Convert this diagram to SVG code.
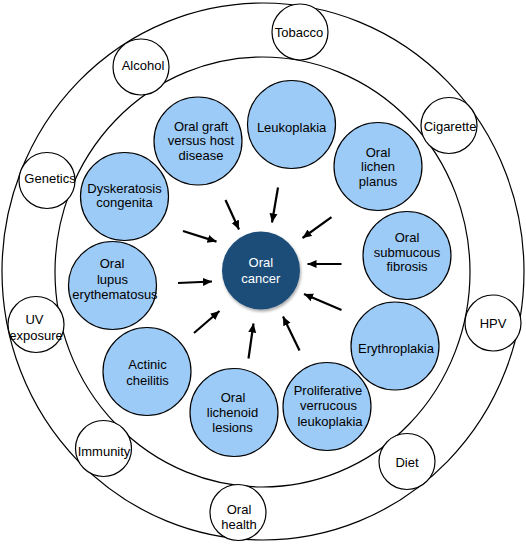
<svg xmlns="http://www.w3.org/2000/svg" width="526" height="545" viewBox="0 0 526 545">
<style>
  .ring { fill: none; stroke: #000; stroke-width: 1.2; }
  .outer { fill: #fff; stroke: #000; stroke-width: 1.2; }
  .blue { fill: #9dcbf7; stroke: #000; stroke-width: 1.2; }
  .core { fill: #1f4e79; }
  text { font-family: "Liberation Sans", Arial, sans-serif; font-size: 13px; fill: #000; text-anchor: middle; }
  .core-t { fill: #fff; }
  .arr { stroke: #000; stroke-width: 2.2; fill: none; marker-end: url(#ah); }
</style>
<defs>
  <marker id="ah" markerUnits="userSpaceOnUse" markerWidth="10" markerHeight="10" viewBox="0 0 10 10" refX="9" refY="5" orient="auto">
    <path d="M0,1 L9,5 L0,9 Z" fill="#000"/>
  </marker>
  <filter id="sh" x="-20%" y="-20%" width="150%" height="150%">
    <feGaussianBlur in="SourceAlpha" stdDeviation="1.5"/>
    <feOffset dx="1" dy="2" result="b"/>
    <feComponentTransfer><feFuncA type="linear" slope="0.35"/></feComponentTransfer>
    <feMerge><feMergeNode/><feMergeNode in="SourceGraphic"/></feMerge>
  </filter>
</defs>
<rect width="526" height="545" fill="#fff"/>
<g id="rings">
  <ellipse class="ring" cx="263" cy="271.5" rx="261" ry="268.5"/>
  <ellipse class="ring" cx="262.5" cy="272" rx="207.5" ry="215"/>
</g>
<g id="tobacco"><circle class="outer" cx="300" cy="32" r="28"/><text x="299" y="36.5">Tobacco</text></g>
<g id="alcohol"><circle class="outer" cx="141" cy="67" r="28"/><text x="143" y="70">Alcohol</text></g>
<g id="cigarette"><circle class="outer" cx="449" cy="125.5" r="28"/><text x="450" y="130.5">Cigarette</text></g>
<g id="genetics"><circle class="outer" cx="47" cy="180.5" r="28"/><text x="50" y="183">Genetics</text></g>
<g id="uv"><circle class="outer" cx="36" cy="324.5" r="28"/><text x="34.5" y="324">UV</text><text x="36" y="340">exposure</text></g>
<g id="hpv"><circle class="outer" cx="493" cy="323" r="28"/><text x="493" y="327.5">HPV</text></g>
<g id="immunity"><circle class="outer" cx="103.5" cy="448.5" r="28"/><text x="104" y="455.5">Immunity</text></g>
<g id="diet"><circle class="outer" cx="407" cy="461.5" r="28"/><text x="407" y="467">Diet</text></g>
<g id="oralhealth"><circle class="outer" cx="238" cy="512.5" r="28"/><text x="239" y="514">Oral</text><text x="239" y="529">health</text></g>

<g id="graft"><circle class="blue" cx="198" cy="141" r="44"/><text x="201" y="130.5">Oral graft</text><text x="201" y="145.2">versus host</text><text x="201" y="159.8">disease</text></g>
<g id="leukoplakia"><circle class="blue" cx="291.5" cy="124.5" r="44"/><text x="291.6" y="131.8">Leukoplakia</text></g>
<g id="lichenplanus"><circle class="blue" cx="378" cy="166.5" r="44"/><text x="378" y="156.8">Oral</text><text x="378" y="171.2">lichen</text><text x="378" y="186.2">planus</text></g>
<g id="submucous"><circle class="blue" cx="407" cy="255.5" r="44"/><text x="407" y="241.8">Oral</text><text x="407" y="256.8">submucous</text><text x="407" y="271.2">fibrosis</text></g>
<g id="erythroplakia"><circle class="blue" cx="395" cy="346" r="44"/><text x="396" y="353.2">Erythroplakia</text></g>
<g id="pvl"><circle class="blue" cx="327" cy="406.5" r="44"/><text x="328" y="394.8">Proliferative</text><text x="328.5" y="409.8">verrucous</text><text x="330" y="425.5">leukoplakia</text></g>
<g id="lichenoid"><circle class="blue" cx="234" cy="412.5" r="44"/><text x="233" y="402.2">Oral</text><text x="232.5" y="417.2">lichenoid</text><text x="232.5" y="431.8">lesions</text></g>
<g id="actinic"><circle class="blue" cx="147" cy="371.5" r="44"/><text x="147.5" y="369.2">Actinic</text><text x="147.5" y="384.8">cheilitis</text></g>
<g id="lupus"><circle class="blue" cx="112.5" cy="285.5" r="44"/><text x="112" y="268">Oral</text><text x="112.5" y="283.5">lupus</text><text x="115" y="298.8">erythematosus</text></g>
<g id="dyskeratosis"><circle class="blue" cx="124.5" cy="196.5" r="44"/><text x="124.5" y="192.8">Dyskeratosis</text><text x="124.5" y="207.2">congenita</text></g>

<g id="connectors">
  <line class="arr" x1="225.5" y1="200" x2="239" y2="229.5"/>
  <line class="arr" x1="278" y1="187.5" x2="272" y2="222.5"/>
  <line class="arr" x1="331.5" y1="217.2" x2="302.5" y2="238"/>
  <line class="arr" x1="341.5" y1="264" x2="307.5" y2="264"/>
  <line class="arr" x1="341.5" y1="310" x2="304" y2="294"/>
  <line class="arr" x1="299.5" y1="350.5" x2="283" y2="316.5"/>
  <line class="arr" x1="248.5" y1="358.5" x2="253.5" y2="323.5"/>
  <line class="arr" x1="194" y1="333" x2="219.5" y2="311"/>
  <line class="arr" x1="178" y1="283" x2="212" y2="281.5"/>
  <line class="arr" x1="183" y1="231" x2="216.5" y2="241.6"/>
</g>

<g id="oralcancer"><circle class="core" cx="261" cy="270.5" r="39" filter="url(#sh)"/><text class="core-t" x="260.8" y="267.2">Oral</text><text class="core-t" x="260.8" y="282.8">cancer</text></g>
</svg>
